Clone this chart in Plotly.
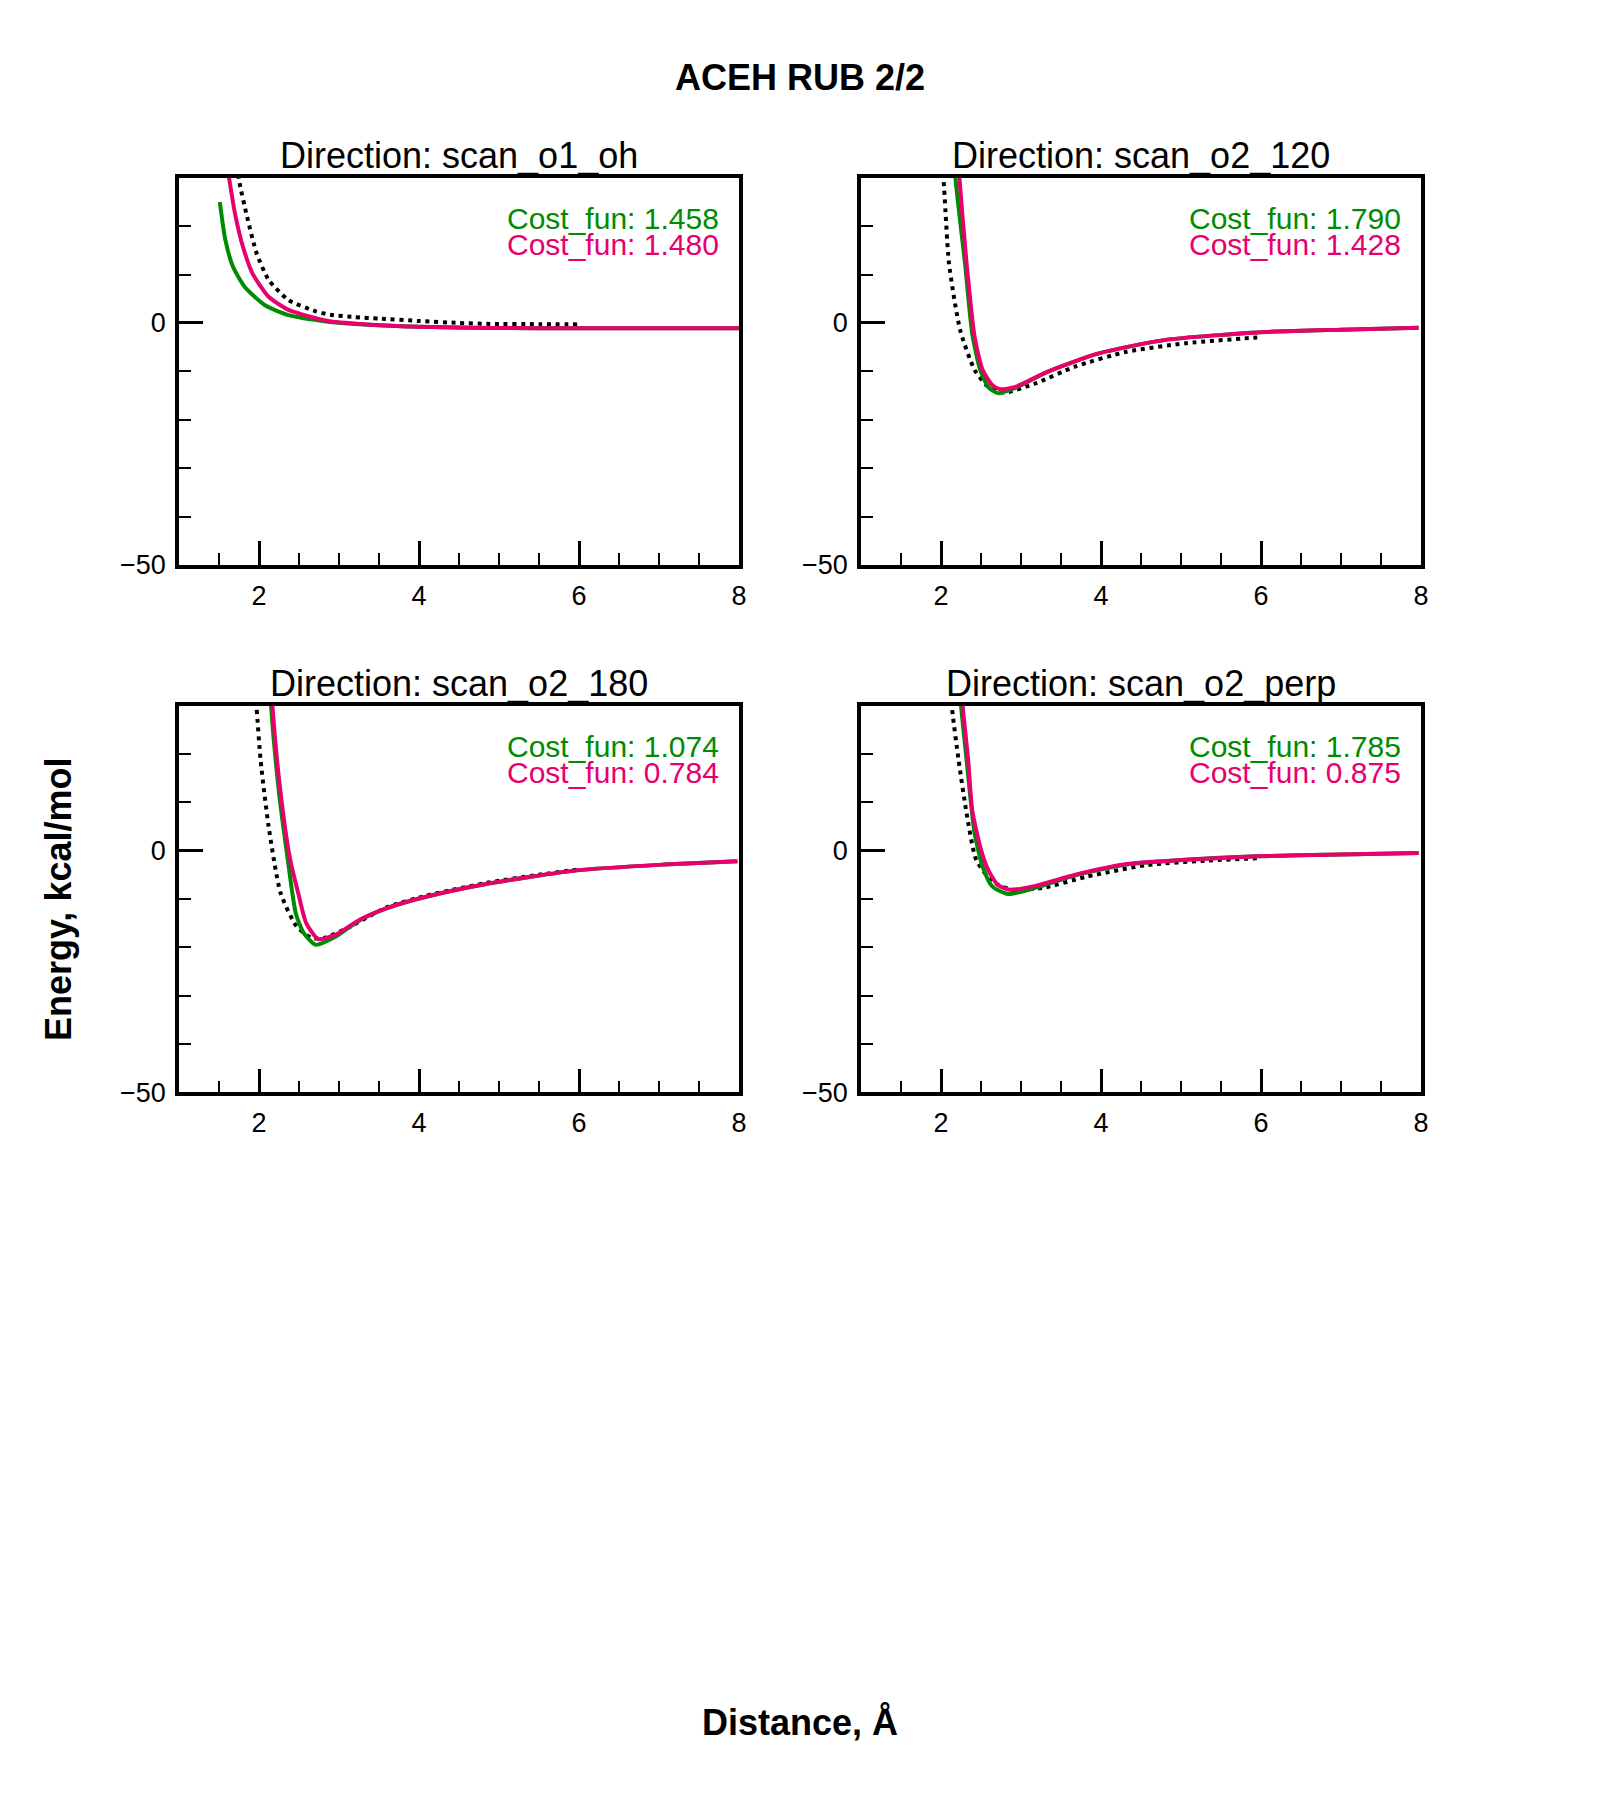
import plotly.graph_objects as go

W, H = 1600, 1800
FONT = "Liberation Sans"
GREEN = "#008c00"
PINK = "#e8006e"

panel_titles = ["Direction: scan_o1_oh", "Direction: scan_o2_120",
                "Direction: scan_o2_180", "Direction: scan_o2_perp"]
cost_green = ["Cost_fun: 1.458", "Cost_fun: 1.790", "Cost_fun: 1.074", "Cost_fun: 1.785"]
cost_pink = ["Cost_fun: 1.480", "Cost_fun: 1.428", "Cost_fun: 0.784", "Cost_fun: 0.875"]

# ---- scan_o1_oh ----
ref1_x = [1.70, 1.75, 1.85, 1.97, 2.12, 2.37, 2.71, 2.89, 3.2, 3.5, 4.0, 4.5, 4.89, 5.5, 6.0]
ref1_y = [36.0, 29.5, 22.0, 14.4, 8.9, 4.7, 2.4, 1.7, 1.2, 0.9, 0.4, 0.0, -0.2, -0.25, -0.3]
grn1_x = [1.51, 1.58, 1.675, 1.82, 2.07, 2.37, 2.86, 3.36, 4.0, 4.9, 6.0, 7.0, 8.0]
grn1_y = [25.0, 17.1, 11.6, 7.5, 3.7, 1.6, 0.25, -0.4, -0.8, -1.05, -1.1, -1.1, -1.1]
pnk1_x = [1.55, 1.625, 1.70, 1.80, 1.92, 2.12, 2.37, 2.86, 3.36, 4.0, 4.9, 6.0, 7.0, 8.0]
pnk1_y = [38.0, 30.0, 22.6, 15.7, 10.2, 5.4, 2.7, 0.4, -0.3, -0.8, -1.05, -1.1, -1.1, -1.1]

# ---- scan_o2_120 ----
ref2_x = [1.98, 2.03, 2.10, 2.24, 2.42, 2.59, 2.79, 3.18, 3.67, 4.32, 5.06, 5.95, 6.0]
ref2_y = [38.0, 30.0, 12.3, -1.5, -9.7, -13.2, -14.4, -12.5, -9.05, -5.95, -4.2, -3.0, -2.95]
grn2_x = [2.15, 2.18, 2.30, 2.39, 2.49, 2.59, 2.71, 2.93, 3.33, 3.97, 4.81, 5.95, 7.0, 7.97]
grn2_y = [40.0, 30.0, 12.3, -2.2, -9.7, -13.2, -14.5, -13.4, -10.1, -6.3, -3.5, -1.95, -1.4, -1.0]
pnk2_x = [2.19, 2.23, 2.32, 2.42, 2.52, 2.64, 2.74, 2.93, 3.33, 3.97, 4.81, 5.95, 7.0, 7.97]
pnk2_y = [40.0, 30.0, 12.3, -2.85, -9.7, -12.8, -13.7, -13.2, -10.1, -6.3, -3.5, -1.95, -1.4, -1.0]

# ---- scan_o2_180 ----
ref3_x = [1.93, 1.97, 2.02, 2.12, 2.27, 2.47, 2.66, 2.81, 3.11, 3.6, 4.1, 4.84, 5.5, 6.0]
ref3_y = [38.0, 29.5, 18.7, 5.0, -8.8, -15.7, -18.1, -18.1, -16.0, -11.7, -9.3, -6.7, -5.0, -3.9]
grn3_x = [2.12, 2.15, 2.25, 2.36, 2.46, 2.56, 2.71, 2.96, 3.26, 3.6, 4.1, 4.84, 5.97, 7.06, 7.98]
grn3_y = [40.0, 30.0, 12.0, -1.9, -13.0, -17.1, -19.5, -17.8, -14.4, -11.9, -9.5, -6.9, -4.1, -2.9, -2.2]
pnk3_x = [2.14, 2.17, 2.27, 2.39, 2.49, 2.59, 2.74, 2.96, 3.26, 3.6, 4.1, 4.84, 5.97, 7.06, 7.98]
pnk3_y = [40.0, 29.5, 11.9, -1.9, -8.8, -15.0, -18.3, -17.4, -14.3, -11.9, -9.5, -6.9, -4.1, -2.9, -2.2]

# ---- scan_o2_perp ----
ref4_x = [2.10, 2.14, 2.22, 2.32, 2.44, 2.64, 2.89, 3.28, 3.82, 4.57, 5.3, 5.95, 6.0]
ref4_y = [38.0, 29.1, 18.7, 7.7, -1.9, -6.4, -8.1, -7.7, -5.4, -3.0, -2.1, -1.6, -1.55]
grn4_x = [2.20, 2.25, 2.32, 2.42, 2.52, 2.64, 2.84, 3.18, 3.68, 4.32, 5.06, 5.95, 7.0, 7.97]
grn4_y = [40.0, 30.0, 18.7, 3.6, -3.3, -7.4, -9.0, -7.7, -5.1, -2.9, -1.9, -1.2, -0.8, -0.5]
pnk4_x = [2.23, 2.27, 2.34, 2.39, 2.49, 2.59, 2.71, 2.86, 3.18, 3.68, 4.32, 5.06, 5.95, 7.0, 7.97]
pnk4_y = [40.0, 30.0, 18.7, 8.4, 0.8, -4.0, -7.1, -8.1, -7.3, -5.0, -2.8, -1.9, -1.2, -0.8, -0.5]

refs = [(ref1_x, ref1_y), (ref2_x, ref2_y), (ref3_x, ref3_y), (ref4_x, ref4_y)]
grns = [(grn1_x, grn1_y), (grn2_x, grn2_y), (grn3_x, grn3_y), (grn4_x, grn4_y)]
pnks = [(pnk1_x, pnk1_y), (pnk2_x, pnk2_y), (pnk3_x, pnk3_y), (pnk4_x, pnk4_y)]

x_range = [1, 8]
y_range = [-50, 30]

# panel geometry in pixels: (left, right, top, bottom)
cols = [(179, 739), (861, 1421)]
rows = [(177.7, 565.0), (705.5, 1092.3)]

fig = go.Figure()
annotations = []

for i in range(4):
    r, c = divmod(i, 2)
    L, R = cols[c]
    T, B = rows[r]
    ax = "" if i == 0 else str(i + 1)
    xa, ya = "x" + ax, "y" + ax
    for (xs, ys), color, dash, width in [
        (refs[i], "black", "4px,4.7px", 4),
        (grns[i], GREEN, "solid", 4),
        (pnks[i], PINK, "solid", 4),
    ]:
        fig.add_trace(go.Scatter(x=xs, y=ys, mode="lines", xaxis=xa, yaxis=ya,
                                 line=dict(color=color, width=width, dash=dash, shape="spline", smoothing=0.6),
                                 showlegend=False, hoverinfo="skip"))
    common = dict(showline=True, linewidth=3.5, linecolor="black", mirror=True,
                  ticks="inside", tickwidth=3, tickcolor="black", ticklen=24,
                  showgrid=False, zeroline=False,
                  tickfont=dict(family=FONT, size=27, color="black"),
                  automargin=False)
    fig.layout["xaxis" + ax] = dict(
        common, domain=[L / W, R / W], range=x_range, anchor=ya,
        tick0=0, dtick=2, ticklabelstandoff=4,
        minor=dict(ticks="inside", dtick=0.5, tick0=0, ticklen=12, tickwidth=2, tickcolor="black"))
    fig.layout["yaxis" + ax] = dict(
        common, domain=[1 - B / H, 1 - T / H], range=y_range, anchor=xa,
        tick0=0, dtick=50, ticklabelstandoff=4,
        minor=dict(ticks="inside", dtick=10, tick0=0, ticklen=12, tickwidth=2, tickcolor="black"))

    cx = (L + R) / 2
    annotations.append(dict(text=panel_titles[i], x=cx / W, y=1 - (T - 22) / H,
                            xref="paper", yref="paper", xanchor="center", yanchor="middle",
                            showarrow=False, font=dict(family=FONT, size=36, color="black")))
    annotations.append(dict(text=cost_green[i], x=(R - 18) / W, y=1 - (T + 41) / H,
                            xref="paper", yref="paper", xanchor="right", yanchor="middle",
                            showarrow=False, font=dict(family=FONT, size=30, color=GREEN)))
    annotations.append(dict(text=cost_pink[i], x=(R - 18) / W, y=1 - (T + 67) / H,
                            xref="paper", yref="paper", xanchor="right", yanchor="middle",
                            showarrow=False, font=dict(family=FONT, size=30, color=PINK)))

annotations.append(dict(text="<b>ACEH RUB 2/2</b>", x=0.5, y=1 - 77.5 / H,
                        xref="paper", yref="paper", xanchor="center", yanchor="middle",
                        showarrow=False, font=dict(family=FONT, size=36, color="black")))
annotations.append(dict(text="<b>Distance, Å</b>", x=800 / W, y=1 - 1722 / H,
                        xref="paper", yref="paper", xanchor="center", yanchor="middle",
                        showarrow=False, font=dict(family=FONT, size=36, color="black")))
annotations.append(dict(text="<b>Energy, kcal/mol</b>", x=58 / W, y=0.5, textangle=-90,
                        xref="paper", yref="paper", xanchor="center", yanchor="middle",
                        showarrow=False, font=dict(family=FONT, size=36, color="black")))

fig.update_layout(width=W, height=H, margin=dict(l=0, r=0, t=0, b=0, pad=0),
                  paper_bgcolor="white", plot_bgcolor="white",
                  annotations=annotations, font=dict(family=FONT))

fig.write_html("out.html")
